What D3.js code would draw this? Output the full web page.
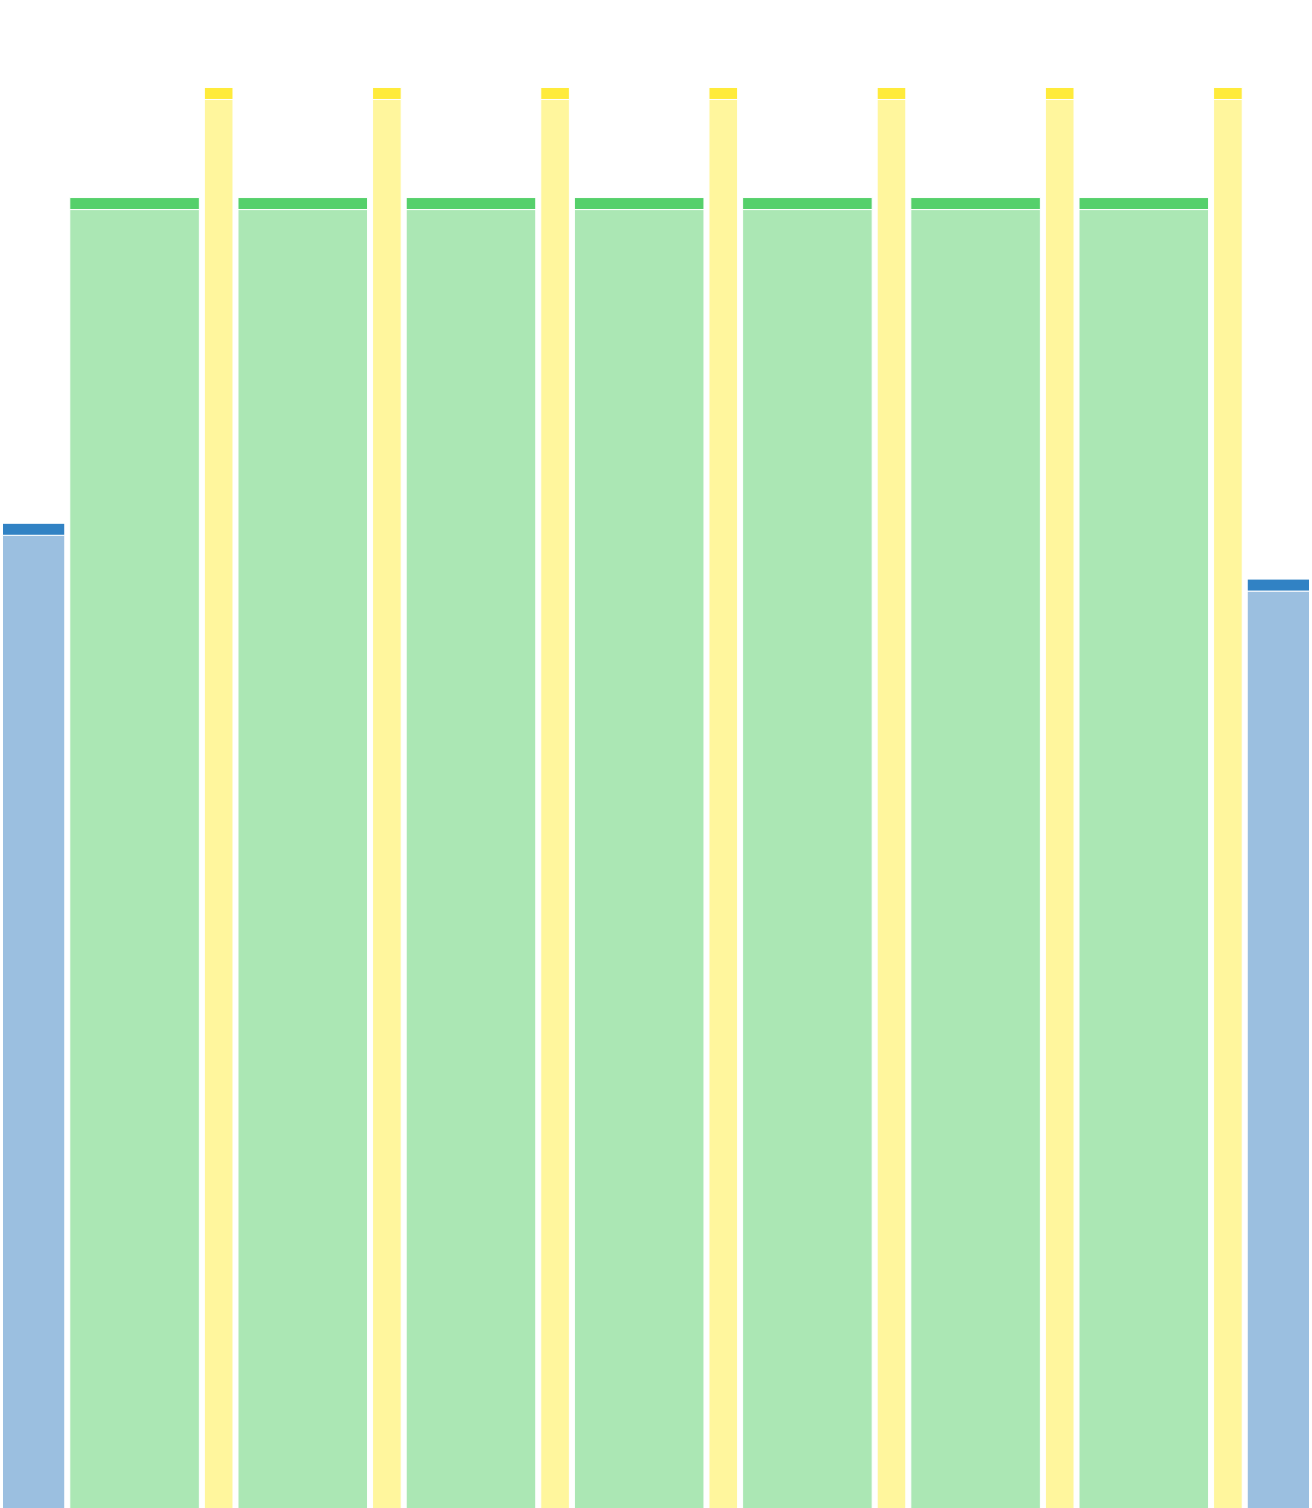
<!DOCTYPE html>
<meta charset="utf-8">
<style>
    body { margin: 0; background: #fff; }
    svg { display: block; }
</style>
<svg width="1312" height="1508"></svg>
<script src="https://d3js.org/d3.v7.min.js"></script>
<script>

    // one bar per entry, left to right
    var groups = ["blue", "green", "yellow", "green", "yellow", "green", "yellow", "green",
                  "yellow", "green", "yellow", "green", "yellow", "green", "yellow", "blue"];
    // relative bar widths
    var widths = [2, 4, 1, 4, 1, 4, 1, 4, 1, 4, 1, 4, 1, 4, 1, 2];
    // bar heights (percent of chart height)
    var values = [65.3, 86.9, 94.2, 86.9, 94.2, 86.9, 94.2, 86.9,
                  94.2, 86.9, 94.2, 86.9, 94.2, 86.9, 94.2, 61.6];

    var capColor = { blue: "#3182c4", green: "#55d06b", yellow: "#ffeb3b" },
        bodyColor = { blue: "#9bbfe0", green: "#abe7b4", yellow: "#fff69d" };

    var svg = d3.select("svg"),
        width = +svg.attr("width"),
        height = +svg.attr("height");

    // cumulative positions for the variable-width bars
    var ends = d3.cumsum(widths),
        starts = ends.map(function (e, i) { return e - widths[i]; });

    var x = d3.scaleLinear()
        .domain([0, d3.sum(widths)])
        .range([0, width]);

    var y = d3.scaleLinear()
        .domain([0, 100])
        .range([height, 0]);

    var pad = 2.5, cap = 12;

    var data = values.map(function (v, i) {
        return { g: groups[i], x0: starts[i], x1: ends[i], v: v };
    });

    var bar = svg.selectAll("g.bar")
        .data(data)
        .enter().append("g")
        .attr("class", "bar");

    // body
    bar.append("rect")
        .attr("x", function (d) { return x(d.x0) + pad; })
        .attr("width", function (d) { return x(d.x1) - x(d.x0) - 2 * pad; })
        .attr("y", function (d) { return y(d.v) + cap; })
        .attr("height", function (d) { return height - y(d.v) - cap + 2; })
        .attr("fill", function (d) { return bodyColor[d.g]; })
        .attr("stroke", "#fff")
        .attr("stroke-width", 1);

    // darker top cap
    bar.append("rect")
        .attr("x", function (d) { return x(d.x0) + pad; })
        .attr("width", function (d) { return x(d.x1) - x(d.x0) - 2 * pad; })
        .attr("y", function (d) { return y(d.v); })
        .attr("height", cap)
        .attr("fill", function (d) { return capColor[d.g]; })
        .attr("stroke", "#fff")
        .attr("stroke-width", 1);

</script>
